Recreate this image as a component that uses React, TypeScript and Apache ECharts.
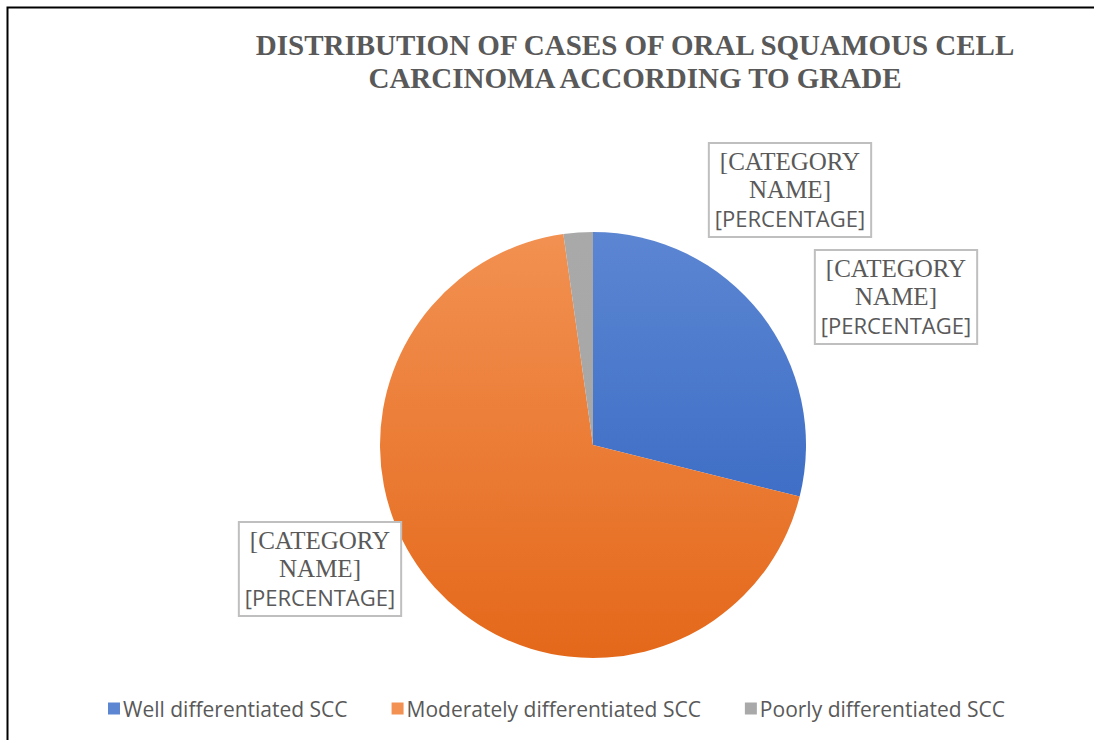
import React, { useEffect, useRef } from "react";
import * as echarts from "echarts";

const categories = ["Well differentiated SCC", "Moderately differentiated SCC", "Poorly differentiated SCC"];
const values = [13, 31, 1];
const titleLines = ["DISTRIBUTION OF CASES OF ORAL SQUAMOUS CELL", "CARCINOMA ACCORDING TO GRADE"];

const topColors = ["#5c86d2", "#f29152", "#a9a9a9"];
const bottomColors = ["#2c60bf", "#e4681a", "#a5a5a5"];
const labelPos = [
  { x: 790, y: 190 },
  { x: 896, y: 297 },
  { x: 320, y: 569 },
];

export default function App() {
  const ref = useRef<HTMLDivElement>(null);
  useEffect(() => {
    const chart = echarts.init(ref.current!, null, { renderer: "svg" });
    const labelText = "{a|[CATEGORY}\n{a|NAME]}\n{b|[PERCENTAGE]}";
    chart.setOption({
      animation: false,
      backgroundColor: "#ffffff",
      title: {
        text: titleLines.join("\n"),
        left: 630,
        top: 23,
        textAlign: "center",
        textStyle: {
          fontFamily: "Liberation Serif, Times New Roman, serif",
          fontWeight: "bold",
          fontSize: 29,
          lineHeight: 33,
          color: "#595959",
        },
      },
      graphic: [
        {
          type: "rect",
          shape: { x: 7.5, y: 7.5, width: 1200, height: 800 },
          style: { fill: "none", stroke: "#000", lineWidth: 2 },
          silent: true,
        },
      ],
      legend: {
        left: 103,
        bottom: 16,
        itemWidth: 12,
        itemHeight: 12,
        itemGap: 44,
        icon: "rect",
        textStyle: {
          fontFamily: "Liberation Sans Narrow, Open Sans, sans-serif",
          fontSize: 21,
          color: "#595959",
          padding: [0, 0, 0, -2],
        },
        data: categories,
      },
      series: [
        {
          type: "pie",
          center: [593, 445],
          radius: 213,
          startAngle: 90,
          clockwise: true,
          data: categories.map((name, i) => ({
            name,
            value: values[i],
            itemStyle: {
              color: new echarts.graphic.LinearGradient(0, 232, 0, 658, [
                { offset: 0, color: topColors[i] },
                { offset: 1, color: bottomColors[i] },
              ], true),
            },
          })),
          itemStyle: { borderWidth: 0 },
          label: {
            show: true,
            position: "outside",
            formatter: labelText,
            borderColor: "#bfbfbf",
            borderWidth: 2,
            padding: [3, 5, 3, 5],
            backgroundColor: "#ffffff",
            align: "center",
            rich: {
              a: {
                fontFamily: "Liberation Serif, Times New Roman, serif",
                fontSize: 25,
                lineHeight: 28,
                color: "#595959",
                align: "center",
              },
              b: {
                fontFamily: "Liberation Sans Narrow, Open Sans, sans-serif",
                fontSize: 22,
                lineHeight: 30,
                color: "#595959",
                align: "center",
              },
            },
          },
          labelLine: { show: false },
          labelLayout: (params: any) => {
            const p = labelPos[params.dataIndex];
            return { x: p.x, y: p.y, align: "center", verticalAlign: "middle" };
          },
        },
      ],
    });
    return () => chart.dispose();
  }, []);
  return <div ref={ref} style={{ width: 1094, height: 740, position: "absolute", left: 0, top: 0 }} />;
}
